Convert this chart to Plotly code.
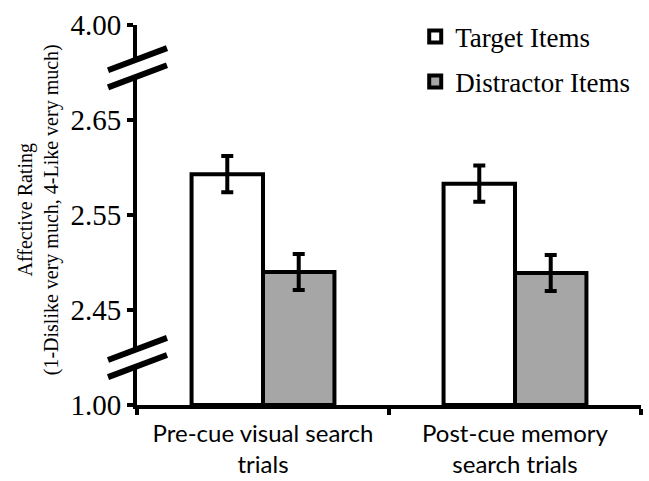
import plotly.graph_objects as go

# Mean affective ratings (with error bars) per search condition
categories = ["Pre-cue visual search<br>trials", "Post-cue memory<br>search trials"]
target_means = [2.593, 2.583]
target_err = [0.019, 0.019]
distractor_means = [2.490, 2.489]
distractor_err = [0.019, 0.019]

# Broken y axis: the 2.45-2.65 window is shown linearly, and the true
# scale ends (1.00 and 4.00) sit one tick step outside that window.
tick_positions = [2.35, 2.45, 2.55, 2.65, 2.75]
tick_labels = ["1.00", "2.45", "2.55", "2.65", "4.00"]
axis_floor = tick_positions[0]
axis_ceiling = tick_positions[-1]
break_centers = [2.40, 2.705]

SERIF = "Liberation Serif, Times New Roman, serif"
SANS = "Lato, Open Sans, sans-serif"

fig = go.Figure()
fig.add_trace(go.Bar(
    x=categories,
    y=[v - axis_floor for v in target_means],
    base=axis_floor,
    name="Target Items",
    legendgroup="target",
    marker=dict(color="white", line=dict(color="black", width=4)),
    error_y=dict(type="data", array=target_err, color="black", thickness=4, width=6),
))
fig.add_trace(go.Bar(
    x=categories,
    y=[v - axis_floor for v in distractor_means],
    base=axis_floor,
    name="Distractor Items",
    legendgroup="distractor",
    marker=dict(color="#a6a6a6", line=dict(color="black", width=4)),
    error_y=dict(type="data", array=distractor_err, color="black", thickness=4, width=6),
))

# Axis-break marks: a white gap in the axis line bounded by two slanted strokes
shapes = []
x_left, x_right = -0.0575, 0.0595
half_rise, half_gap = 0.0116, 0.009
for c in break_centers:
    shapes.append(dict(
        type="path", xref="paper", yref="y", layer="above",
        path=(f"M{x_left},{c - half_rise - half_gap} L{x_right},{c + half_rise - half_gap} "
              f"L{x_right},{c + half_rise + half_gap} L{x_left},{c - half_rise + half_gap} Z"),
        fillcolor="white", line=dict(width=0),
    ))
    for o in (-half_gap, half_gap):
        shapes.append(dict(
            type="line", xref="paper", yref="y", layer="above",
            x0=x_left, y0=c - half_rise + o, x1=x_right, y1=c + half_rise + o,
            line=dict(color="black", width=6),
        ))

fig.update_layout(
    width=649, height=481,
    margin=dict(l=137, r=8, t=25, b=76, autoexpand=False),
    paper_bgcolor="white", plot_bgcolor="white",
    barmode="group", bargap=0.433, bargroupgap=0,
    showlegend=True,
    legend=dict(
        x=0.552, y=1.033, xanchor="left", yanchor="top",
        font=dict(family=SERIF, size=27, color="black"),
        traceorder="grouped", tracegroupgap=7,
        bgcolor="rgba(0,0,0,0)",
    ),
    xaxis=dict(
        showline=True, linecolor="black", linewidth=4,
        ticks="outside", tickson="boundaries", ticklen=6, tickwidth=4, tickcolor="black",
        tickfont=dict(family=SANS, size=24, color="black"),
        ticklabelstandoff=4,
        showgrid=False,
    ),
    yaxis=dict(
        range=[axis_floor, axis_ceiling],
        tickmode="array", tickvals=tick_positions, ticktext=tick_labels,
        showline=True, linecolor="black", linewidth=4,
        ticks="outside", ticklen=6, tickwidth=4, tickcolor="black",
        tickfont=dict(family=SERIF, size=29, color="black"),
        showgrid=False, zeroline=False,
    ),
    shapes=shapes,
    annotations=[dict(
        text="Affective Rating<br>(1-Dislike very much, 4-Like very much)",
        textangle=-90, xref="paper", yref="paper", x=-0.196, y=0.513,
        xanchor="center", yanchor="middle", showarrow=False,
        font=dict(family=SERIF, size=20, color="black"),
    )],
)

fig.write_html("out.html")
